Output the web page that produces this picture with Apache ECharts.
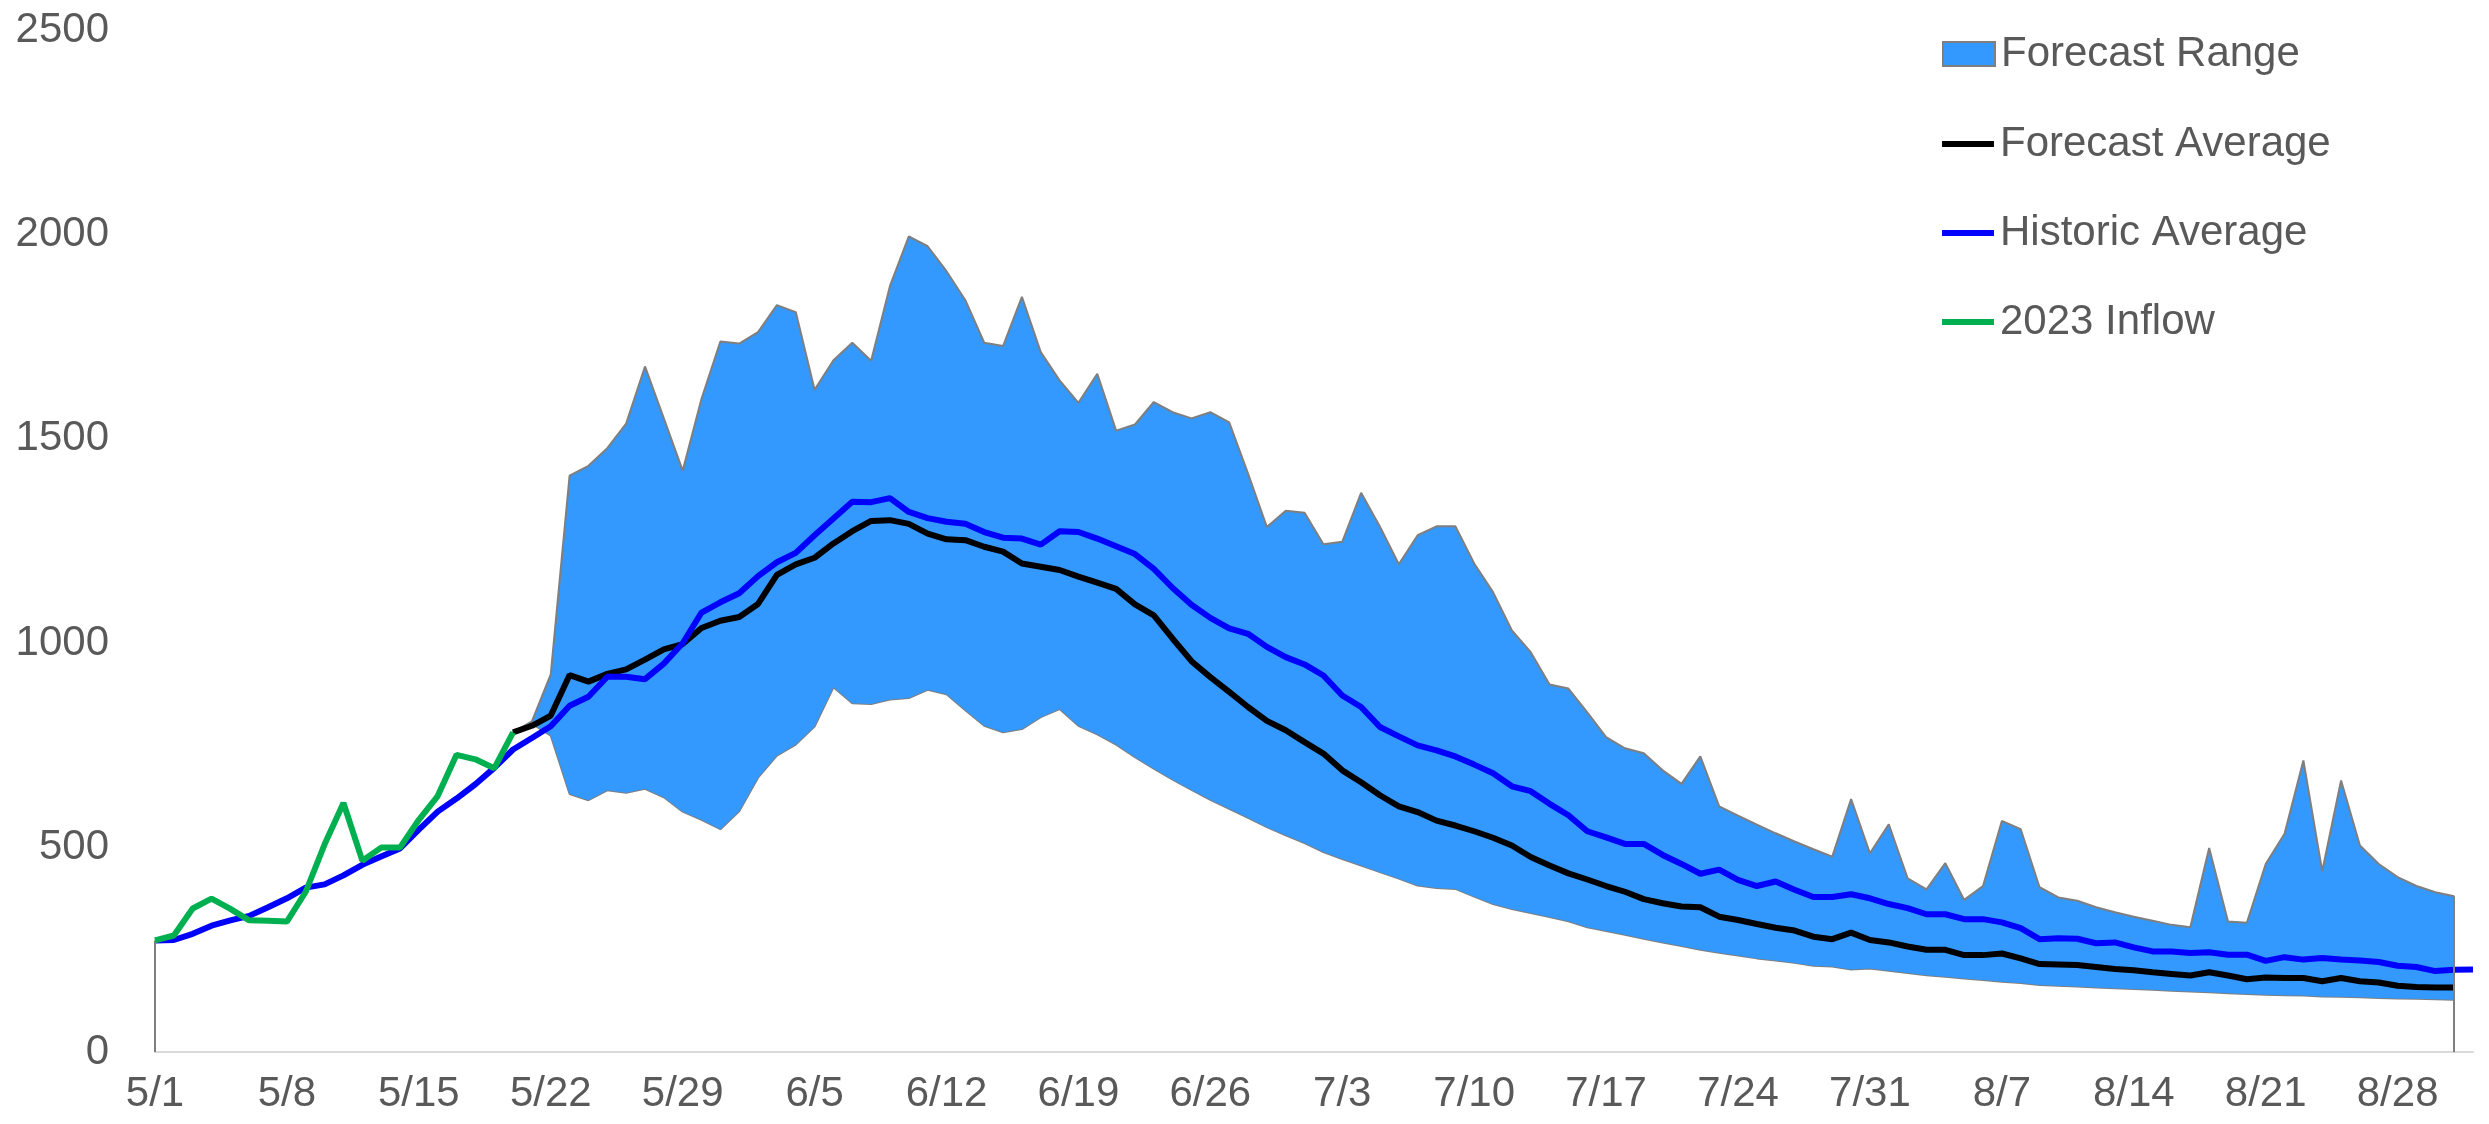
<!DOCTYPE html>
<html>
<head>
<meta charset="utf-8">
<script src="https://cdn.jsdelivr.net/npm/echarts@6/dist/echarts.min.js"></script>
<style>
html,body{margin:0;padding:0;background:#fff;}
#chart{width:2489px;height:1124px;}
</style>
</head>
<body>
<div id="chart"></div>
<script>
// Categories (daily, 5/1 .. 9/1)
const dates = [
'5/1','5/2','5/3','5/4','5/5','5/6','5/7','5/8','5/9','5/10','5/11','5/12','5/13','5/14','5/15','5/16','5/17','5/18','5/19','5/20','5/21','5/22','5/23','5/24','5/25','5/26','5/27','5/28','5/29','5/30','5/31',
'6/1','6/2','6/3','6/4','6/5','6/6','6/7','6/8','6/9','6/10','6/11','6/12','6/13','6/14','6/15','6/16','6/17','6/18','6/19','6/20','6/21','6/22','6/23','6/24','6/25','6/26','6/27','6/28','6/29','6/30',
'7/1','7/2','7/3','7/4','7/5','7/6','7/7','7/8','7/9','7/10','7/11','7/12','7/13','7/14','7/15','7/16','7/17','7/18','7/19','7/20','7/21','7/22','7/23','7/24','7/25','7/26','7/27','7/28','7/29','7/30','7/31',
'8/1','8/2','8/3','8/4','8/5','8/6','8/7','8/8','8/9','8/10','8/11','8/12','8/13','8/14','8/15','8/16','8/17','8/18','8/19','8/20','8/21','8/22','8/23','8/24','8/25','8/26','8/27','8/28','8/29','8/30','8/31',
'9/1'];

// Tick labels
const xTickLabels = ['5/1','5/8','5/15','5/22','5/29','6/5','6/12','6/19','6/26','7/3','7/10','7/17','7/24','7/31','8/7','8/14','8/21','8/28'];
const yTicks = [0, 500, 1000, 1500, 2000, 2500];

// 2023 Inflow, observed 5/1 .. 5/20
const inflow2023 = [273,285,351,375,350,322,321,319,392,508,
                    609,468,500,500,568,626,727,716,694,782];

// Historic Average, 5/1 .. 9/1
const historicAverage = [
 273,274,289,309,322,333,354,376,402,410,
 432,458,478,498,544,588,620,655,695,740,
 768,797,847,869,918,918,912,950,1000,1075,
 1100,1122,1164,1198,1221,1264,1305,1346,1345,1355,
 1321,1306,1297,1292,1272,1258,1256,1241,1274,1272,
 1256,1237,1218,1182,1135,1094,1062,1036,1023,991,
 966,948,921,872,844,795,772,750,738,723,
 703,682,650,638,607,579,540,525,509,509,
 482,460,436,446,421,406,417,397,379,379,
 386,376,362,352,337,337,325,325,317,303,
 276,278,277,266,268,256,246,246,242,244,
 238,238,223,232,226,230,226,224,220,211,
 208,198,201,202];

// Forecast Average, 5/20 .. 8/31
const forecastStartIndex = 19;
const forecastAverage = [
 782,
 798,823,922,906,925,936,960,985,998,1037,
 1055,1064,1096,1167,1193,1209,1244,1274,1299,1301,
 1292,1268,1254,1252,1236,1224,1195,1187,1179,1163,
 1148,1133,1095,1068,1011,956,917,881,844,810,
 787,758,730,689,660,628,601,587,566,554,
 540,524,505,477,456,437,422,406,392,374,
 364,356,354,331,323,313,304,297,282,276,
 292,274,268,258,250,250,237,237,241,229,
 215,214,213,208,203,200,195,191,187,195,
 187,178,182,181,181,173,181,173,170,162,
 159,158,158];

// Forecast range bounds, 5/21 .. 8/31 (before that the range collapses onto the observed inflow)
const forecastLow = [
 803,774,631,616,640,634,644,623,588,568,
 545,589,671,725,752,796,892,853,851,862,
 866,886,875,836,798,782,790,819,839,798,
 777,752,721,693,666,641,617,595,573,550,
 530,511,489,472,456,440,424,407,401,399,
 380,362,350,340,330,320,305,296,287,277,
 268,259,250,243,236,229,224,218,211,209,
 202,204,199,193,188,184,180,176,172,169,
 164,162,160,158,156,154,152,150,148,146,
 144,142,140,139,138,136,135,134,132,131,
 130,129,128];
const forecastHigh = [
 809,924,1410,1434,1477,1537,1677,1550,1422,1598,
 1738,1733,1761,1827,1810,1620,1692,1735,1691,1874,
 1995,1971,1910,1839,1735,1727,1847,1712,1643,1588,
 1659,1520,1535,1590,1565,1550,1565,1540,1415,1284,
 1324,1319,1242,1248,1368,1285,1193,1264,1286,1286,
 1195,1125,1031,978,899,889,831,770,743,731,
 689,656,723,601,578,556,535,515,496,478,
 619,486,557,425,398,462,372,406,565,545,
 403,378,370,354,342,331,321,311,305,499,
 319,316,460,534,713,442,664,505,460,428,
 406,391,381];

// ---- build library data from the arrays ----
const N = dates.length;
function pad(start, vals){
  const a = new Array(N).fill(null);
  vals.forEach((v,i)=>{ a[start+i] = v; });
  return a;
}
const inflowData = pad(0, inflow2023);
const avgData = pad(forecastStartIndex, forecastAverage);
const lowerData = pad(0, inflow2023.concat(forecastLow));
const upperData = pad(0, inflow2023.concat(forecastHigh));
const rangeData = upperData.map((u,i)=> (u==null || lowerData[i]==null) ? null : u - lowerData[i]);
let lastIdx = 0;
lowerData.forEach((v,i)=>{ if(v!=null) lastIdx = i; });
const tickSet = new Set(xTickLabels);

const FONT = '"Liberation Sans", Arial, sans-serif';
const TXT = '#595959';
const GRAY = '#7f7f7f';
const FS = 42;
const LW = 6;

const chart = echarts.init(document.getElementById('chart'), null, {renderer:'canvas'});
chart.setOption({
  animation: false,
  backgroundColor: '#ffffff',
  textStyle: {fontFamily: FONT},
  grid: {left: 155, right: 16, top: 30, bottom: 72, containLabel: false},
  legend: [
    {
      data: ['Forecast Range'],
      orient: 'vertical', left: 1937, top: 27,
      icon: 'rect', itemWidth: 52, itemHeight: 24,
      itemStyle: {color: '#3399FF', borderColor: GRAY, borderWidth: 2},
      textStyle: {color: TXT, fontSize: FS, fontFamily: FONT, lineHeight: 44, padding: [0,0,0,1]},
      selectedMode: false
    },
    {
      data: ['Forecast Average', 'Historic Average', '2023 Inflow'],
      orient: 'vertical', left: 1937, top: 117,
      icon: 'rect', itemWidth: 52, itemHeight: 6, itemGap: 45,
      textStyle: {color: TXT, fontSize: FS, fontFamily: FONT, lineHeight: 44, padding: [0,0,0,1]},
      selectedMode: false
    }
  ],
  xAxis: {
    type: 'category',
    data: dates,
    boundaryGap: false,
    axisLine: {show: true, lineStyle: {color: '#d9d9d9', width: 2}},
    axisTick: {show: false},
    splitLine: {show: false},
    axisLabel: {
      interval: (idx, val) => tickSet.has(val),
      color: TXT, fontSize: FS, fontFamily: FONT, margin: 21
    }
  },
  yAxis: {
    type: 'value',
    min: yTicks[0], max: yTicks[yTicks.length-1], interval: yTicks[1]-yTicks[0],
    axisLine: {show: false},
    axisTick: {show: false},
    splitLine: {show: false},
    axisLabel: {color: TXT, fontSize: FS, fontFamily: FONT, margin: 46, formatter: (v) => String(v)}
  },
  series: [
    {
      name: 'lower', type: 'line', stack: 'band', data: lowerData,
      symbol: 'none', showSymbol: false, silent: true,
      color: GRAY,
      lineStyle: {color: GRAY, width: 2},
      z: 1,
      markLine: {
        silent: true, symbol: 'none', label: {show: false},
        lineStyle: {color: GRAY, width: 2, type: 'solid'},
        data: [
          [{coord: [dates[0], 0]}, {coord: [dates[0], lowerData[0]]}],
          [{coord: [dates[lastIdx], 0]}, {coord: [dates[lastIdx], upperData[lastIdx]]}]
        ]
      }
    },
    {
      name: 'Forecast Range', type: 'line', stack: 'band', data: rangeData,
      symbol: 'none', showSymbol: false, silent: true,
      color: '#3399FF',
      lineStyle: {color: GRAY, width: 2},
      areaStyle: {color: '#3399FF', opacity: 1},
      z: 2
    },
    {
      name: 'Forecast Average', type: 'line', data: avgData,
      symbol: 'none', showSymbol: false, silent: true,
      color: '#000000', lineStyle: {color: '#000000', width: LW}, z: 3
    },
    {
      name: 'Historic Average', type: 'line', data: historicAverage,
      symbol: 'none', showSymbol: false, silent: true,
      color: '#0000FF', lineStyle: {color: '#0000FF', width: LW}, z: 4
    },
    {
      name: '2023 Inflow', type: 'line', data: inflowData,
      symbol: 'none', showSymbol: false, silent: true,
      color: '#00B050', lineStyle: {color: '#00B050', width: LW}, z: 5
    }
  ]
});
</script>
</body>
</html>
